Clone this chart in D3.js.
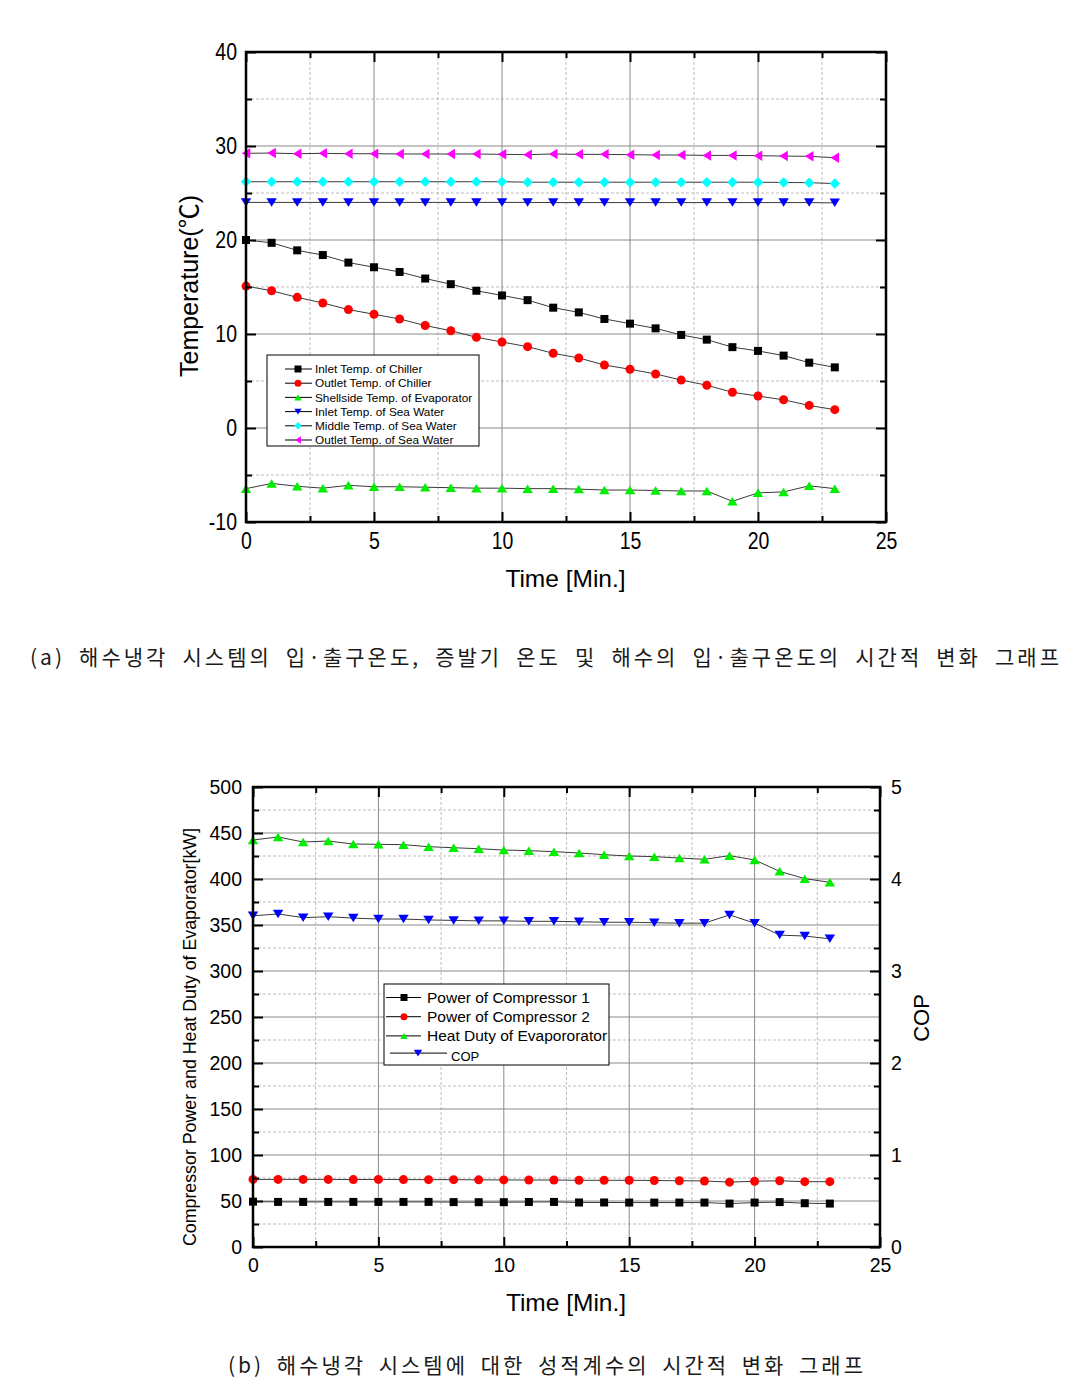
<!DOCTYPE html>
<html><head><meta charset="utf-8">
<script src="https://cdn.jsdelivr.net/npm/d3@7"></script>
<style>body{margin:0;background:#fff} svg{display:block}</style>
</head><body>
<svg id="c" width="1075" height="1395"></svg>
<script>
// ---------- DATA ----------
const timeMin = [0,1,2,3,4,5,6,7,8,9,10,11,12,13,14,15,16,17,18,19,20,21,22,23];

// Chart (a) temperatures [°C]
const inletChiller  = [20.0,19.7,18.9,18.4,17.6,17.1,16.6,15.9,15.3,14.6,14.1,13.6,12.8,12.3,11.6,11.1,10.6,9.9,9.4,8.6,8.2,7.7,6.95,6.45];
const outletChiller = [15.1,14.6,13.9,13.3,12.6,12.1,11.6,10.9,10.35,9.65,9.15,8.65,7.95,7.45,6.7,6.25,5.75,5.1,4.55,3.8,3.4,3.0,2.4,1.95];
const shellsideEvap = [-6.45,-5.9,-6.2,-6.4,-6.1,-6.25,-6.25,-6.3,-6.35,-6.4,-6.4,-6.45,-6.45,-6.5,-6.6,-6.6,-6.65,-6.7,-6.7,-7.8,-6.9,-6.8,-6.15,-6.45];
const inletSea      = [24.0,24.0,24.0,24.0,24.0,24.0,24.0,24.0,24.0,24.0,24.0,24.0,23.98,23.98,23.98,23.98,23.98,23.98,23.98,23.98,23.98,23.98,23.98,23.95];
const middleSea     = [26.2,26.2,26.2,26.2,26.2,26.2,26.2,26.2,26.2,26.2,26.2,26.15,26.15,26.15,26.15,26.15,26.15,26.15,26.15,26.15,26.15,26.12,26.1,26.0];
const outletSea     = [29.22,29.25,29.18,29.22,29.18,29.18,29.15,29.15,29.15,29.15,29.11,29.08,29.15,29.11,29.11,29.08,29.04,29.04,29.0,29.0,28.97,28.93,28.9,28.76];

// Chart (b) power / heat duty [kW] and COP
const powerComp1 = [49.3,49.0,49.0,49.0,49.0,49.0,49.0,49.0,48.8,48.7,48.7,48.9,49.0,48.4,48.4,48.3,48.3,48.3,48.3,47.2,48.3,48.8,47.6,47.2];
const powerComp2 = [73.5,73.5,73.5,73.5,73.3,73.5,73.3,73.2,73.2,73.0,72.9,72.8,72.8,72.5,72.5,72.5,72.3,72.0,71.8,70.5,71.5,72.0,71.0,71.0];
const heatDuty   = [442.4,445.7,440.2,441.3,438.0,437.7,437.3,435.1,434.0,432.9,431.5,430.8,429.7,428.3,426.4,425.0,424.3,422.8,421.4,425.4,420.7,408.3,400.4,396.4];
const cop        = [3.60,3.62,3.58,3.59,3.575,3.565,3.565,3.555,3.55,3.545,3.545,3.54,3.54,3.535,3.53,3.53,3.525,3.52,3.52,3.61,3.52,3.39,3.38,3.35];

// Ticks
const xTicks      = [0,5,10,15,20,25];
const xMinorTicks = [2.5,7.5,12.5,17.5,22.5];
const yTicksA      = [-10,0,10,20,30,40];
const yMinorTicksA = [-5,5,15,25,35];
const yTicksB      = [0,50,100,150,200,250,300,350,400,450,500];
const yMinorTicksB = [25,75,125,175,225,275,325,375,425,475];
const copTicks     = [0,1,2,3,4,5];

const seriesNamesA = ["Inlet Temp. of Chiller","Outlet Temp. of Chiller","Shellside Temp. of Evaporator","Inlet Temp. of Sea Water","Middle Temp. of Sea Water","Outlet Temp. of Sea Water"];
const seriesNamesB = ["Power of Compressor 1","Power of Compressor 2","Heat Duty of Evapororator","COP"];

const captionA = "(a) 해수냉각 시스템의 입·출구온도, 증발기 온도 및 해수의 입·출구온도의 시간적 변화 그래프";
const captionB = "(b) 해수냉각 시스템에 대한 성적계수의 시간적 변화 그래프";

// ---------- DRAWING ----------
const svg = d3.select("#c");
const FONT = "'Liberation Sans', Arial, sans-serif";
const fmt = d => String(d);

function markerPath(type, s) {
  const h = s / 2;
  switch (type) {
    case "square": return `M${-h},${-h}H${h}V${h}H${-h}Z`;
    case "circle": return d3.symbol(d3.symbolCircle, Math.PI * h * h)();
    case "up":     return `M0,${-h*0.85}L${h*1.05},${h*0.85}L${-h*1.05},${h*0.85}Z`;
    case "down":   return `M0,${h*0.85}L${h*1.05},${-h*0.85}L${-h*1.05},${-h*0.85}Z`;
    case "left":   return `M${-h*0.85},0L${h*0.85},${-h*1.05}L${h*0.85},${h*1.05}Z`;
    case "diamond":return `M0,${-h*1.05}L${h*1.05},0L0,${h*1.05}L${-h*1.05},0Z`;
  }
}

function panel(o) {
  const g = svg.append("g");
  const x = d3.scaleLinear().domain([0, 25]).range([o.x0, o.x1]);
  const y = d3.scaleLinear().domain(o.yDomain).range([o.y1, o.y0]);

  // grid
  const grid = g.append("g");
  grid.selectAll(".gxm").data(xMinorTicks).join("line")
    .attr("x1", d => x(d)).attr("x2", d => x(d)).attr("y1", o.y0).attr("y2", o.y1)
    .attr("stroke", "#bdbdbd").attr("stroke-width", 1).attr("stroke-dasharray", "3,2");
  grid.selectAll(".gym").data(o.yMinor).join("line")
    .attr("y1", d => y(d)).attr("y2", d => y(d)).attr("x1", o.x0).attr("x2", o.x1)
    .attr("stroke", "#bdbdbd").attr("stroke-width", 1).attr("stroke-dasharray", "3,2");
  grid.selectAll(".gx").data(xTicks.slice(1, -1)).join("line")
    .attr("x1", d => x(d)).attr("x2", d => x(d)).attr("y1", o.y0).attr("y2", o.y1)
    .attr("stroke", "#8a8a8a").attr("stroke-width", 1);
  grid.selectAll(".gy").data(o.yTicks.slice(1, -1)).join("line")
    .attr("y1", d => y(d)).attr("y2", d => y(d)).attr("x1", o.x0).attr("x2", o.x1)
    .attr("stroke", "#8a8a8a").attr("stroke-width", 1);

  // series
  o.series.forEach(s => {
    const sy = s.scale || y;
    const pts = timeMin.map((t, i) => [x(t), sy(s.values[i])]);
    g.append("path").attr("d", d3.line()(pts)).attr("fill", "none")
      .attr("stroke", "#3a3a3a").attr("stroke-width", 1);
    g.selectAll(null).data(pts).join("path")
      .attr("transform", d => `translate(${d[0]},${d[1]})`)
      .attr("d", markerPath(s.marker, s.size)).attr("fill", s.color);
  });

  // axes (ticks inward)
  function styleAxis(sel) {
    sel.select(".domain").remove();
    sel.selectAll(".tick line").attr("stroke", "#000").attr("stroke-width", 2);
    sel.selectAll(".tick text").attr("font-family", FONT).attr("font-size", o.tickFs).attr("fill", "#000")
      .attr("transform", `scale(1,${o.tickStretch})`);
  }
  g.append("g").attr("transform", `translate(0,${o.y1})`)
    .call(d3.axisBottom(x).tickValues(xTicks).tickSize(-10).tickPadding(o.bottomPad).tickFormat(fmt)).call(styleAxis);
  g.append("g").attr("transform", `translate(0,${o.y1})`)
    .call(d3.axisBottom(x).tickValues(xMinorTicks).tickSize(-6).tickFormat("")).call(styleAxis);
  g.append("g").attr("transform", `translate(0,${o.y0})`)
    .call(d3.axisTop(x).tickValues(xTicks).tickSize(-10).tickFormat("")).call(styleAxis);
  g.append("g").attr("transform", `translate(0,${o.y0})`)
    .call(d3.axisTop(x).tickValues(xMinorTicks).tickSize(-6).tickFormat("")).call(styleAxis);
  g.append("g").attr("transform", `translate(${o.x0},0)`)
    .call(d3.axisLeft(y).tickValues(o.yTicks).tickSize(-10).tickPadding(o.leftPad).tickFormat(fmt)).call(styleAxis);
  g.append("g").attr("transform", `translate(${o.x0},0)`)
    .call(d3.axisLeft(y).tickValues(o.yMinor).tickSize(-6).tickFormat("")).call(styleAxis);
  if (o.rightScale) {
    g.append("g").attr("transform", `translate(${o.x1},0)`)
      .call(d3.axisRight(o.rightScale).tickValues(copTicks).tickSize(-10).tickPadding(11).tickFormat(fmt)).call(styleAxis);
  } else {
    g.append("g").attr("transform", `translate(${o.x1},0)`)
      .call(d3.axisRight(y).tickValues(o.yTicks).tickSize(-10).tickFormat("")).call(styleAxis);
  }
  g.append("g").attr("transform", `translate(${o.x1},0)`)
    .call(d3.axisRight(y).tickValues(o.yMinor).tickSize(-6).tickFormat("")).call(styleAxis);

  // frame
  g.append("rect").attr("x", o.x0).attr("y", o.y0).attr("width", o.x1 - o.x0).attr("height", o.y1 - o.y0)
    .attr("fill", "none").attr("stroke", "#000").attr("stroke-width", 2.5);

  // axis titles
  g.append("text").attr("x", (o.x0 + o.x1) / 2 - 0.5).attr("y", o.xTitleY)
    .attr("text-anchor", "middle").attr("font-family", FONT).attr("font-size", 24.5).text("Time [Min.]");
  const yt = g.append("text").attr("transform", `translate(${o.yTitleX},${o.yTitleCY}) rotate(-90)`)
    .attr("text-anchor", "middle").attr("font-family", FONT).attr("font-size", o.yTitleSize);
  o.yTitle.forEach(part => {
    yt.append("tspan").attr("font-family", part.cjk ? "'Noto Sans CJK KR', sans-serif" : FONT).text(part.t);
  });

  // legend
  const L = o.legend;
  g.append("rect").attr("x", L.x).attr("y", L.y).attr("width", L.w).attr("height", L.h)
    .attr("fill", "#fff").attr("stroke", "#000").attr("stroke-width", 1);
  L.rows.forEach((r, i) => {
    const cy = L.firstY + i * L.step;
    g.append("line").attr("x1", r.lx0).attr("x2", r.lx1).attr("y1", cy + (r.lineDy || 0)).attr("y2", cy + (r.lineDy || 0))
      .attr("stroke", "#000").attr("stroke-width", 1);
    g.append("path").attr("transform", `translate(${r.mx},${cy + (r.lineDy || 0)})`)
      .attr("d", markerPath(r.marker, r.size)).attr("fill", r.color);
    g.append("text").attr("x", r.tx).attr("y", cy + (r.textDy || 0)).attr("dy", "0.36em")
      .attr("font-family", FONT).attr("font-size", r.fs).text(r.name);
  });
}

// Chart (a)
const colorsA = ["#000000", "#ff0000", "#00ee00", "#0000ff", "#00ffff", "#ff00ff"];
const markersA = ["square", "circle", "up", "down", "diamond", "left"];
const valuesA = [inletChiller, outletChiller, shellsideEvap, inletSea, middleSea, outletSea];
panel({
  x0: 246, x1: 886, y0: 52, y1: 522,
  yDomain: [-10, 40], yTicks: yTicksA, yMinor: yMinorTicksA, leftPad: 9, bottomPad: 9,
  tickFs: 19.5, tickStretch: 1.2,
  series: valuesA.map((v, i) => ({ values: v, color: colorsA[i], marker: markersA[i], size: [8, 9, 10, 10, 10, 10][i] })),
  xTitleY: 587, yTitleX: 198, yTitleCY: 286, yTitleSize: 25,
  yTitle: [{ t: "Temperature(" }, { t: "℃", cjk: true }, { t: ")" }],
  legend: {
    x: 267, y: 355, w: 212, h: 91, firstY: 369, step: 14.2,
    rows: seriesNamesA.map((n, i) => ({ name: n, color: colorsA[i], marker: markersA[i], size: 7,
      lx0: 285, lx1: 312, mx: 298, tx: 315, fs: 11.8 }))
  }
});

// Chart (b)
const copScale = d3.scaleLinear().domain([0, 5]).range([1247, 787]);
const colorsB = ["#000000", "#ff0000", "#00ee00", "#0000ff"];
const markersB = ["square", "circle", "up", "down"];
panel({
  x0: 253, x1: 880, y0: 787, y1: 1247,
  yDomain: [0, 500], yTicks: yTicksB, yMinor: yMinorTicksB, leftPad: 11, bottomPad: 11,
  tickFs: 19.5, tickStretch: 1,
  rightScale: copScale,
  series: [
    { values: powerComp1, color: colorsB[0], marker: "square", size: 8 },
    { values: powerComp2, color: colorsB[1], marker: "circle", size: 9 },
    { values: heatDuty, color: colorsB[2], marker: "up", size: 10 },
    { values: cop, color: colorsB[3], marker: "down", size: 10, scale: copScale }
  ],
  xTitleY: 1311, yTitleX: 196, yTitleCY: 1037, yTitleSize: 17.8,
  yTitle: [{ t: "Compressor Power and Heat Duty of Evaporator[kW]" }],
  legend: {
    x: 384, y: 984, w: 225, h: 81, firstY: 997.5, step: 19.2,
    rows: seriesNamesB.map((n, i) => i < 3
      ? ({ name: n, color: colorsB[i], marker: markersB[i], size: 7, lx0: 386, lx1: 421, mx: 404, tx: 427, fs: 15.5 })
      : ({ name: n, color: colorsB[i], marker: markersB[i], size: 8, lx0: 390, lx1: 447, mx: 418, tx: 451, fs: 13, lineDy: -2, textDy: 1.5 }))
  }
});
// right axis title
svg.append("text").attr("transform", "translate(929,1018) rotate(-90)").attr("text-anchor", "middle")
  .attr("font-family", FONT).attr("font-size", 22).text("COP");

// captions: glyphs spread slightly, word gaps widened to span the measured width
function caption(text, x, y, width) {
  const t = svg.append("text").attr("x", x).attr("y", y)
    .attr("font-family", "'Noto Sans CJK KR', sans-serif").attr("font-weight", 400)
    .attr("font-size", 21).attr("letter-spacing", 3).attr("fill", "#1a1a1a").text(text);
  const natural = t.node().getComputedTextLength();
  const spaces = (text.match(/ /g) || []).length;
  t.attr("word-spacing", Math.max(0, (width - natural) / spaces));
}
caption(captionA, 30, 665, 1032);
caption(captionB, 228, 1373, 638);
</script>
</body></html>
